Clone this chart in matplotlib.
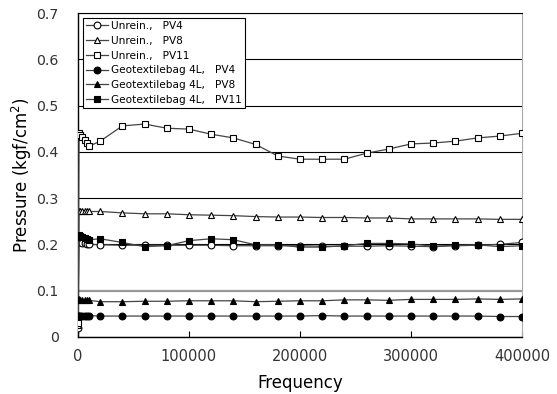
import matplotlib
matplotlib.use("Agg")
import matplotlib.pyplot as plt

# ---- data ----
freq = [0, 1000, 2000, 4000, 6000, 8000, 10000,
        20000, 40000, 60000, 80000, 100000, 120000, 140000, 160000, 180000, 200000,
        220000, 240000, 260000, 280000, 300000, 320000, 340000, 360000, 380000, 400000]

unrein_pv4 = [0.020, 0.205, 0.204, 0.203, 0.202, 0.201, 0.200,
              0.199, 0.198, 0.198, 0.198, 0.198, 0.198, 0.197, 0.197, 0.197, 0.197,
              0.196, 0.196, 0.196, 0.197, 0.196, 0.195, 0.197, 0.198, 0.200, 0.204]
unrein_pv8 = [0.025, 0.273, 0.273, 0.272, 0.272, 0.271, 0.271,
              0.271, 0.268, 0.266, 0.266, 0.264, 0.263, 0.262, 0.260, 0.259, 0.259,
              0.258, 0.258, 0.257, 0.257, 0.255, 0.255, 0.255, 0.255, 0.254, 0.254]
unrein_pv11 = [0.030, 0.440, 0.436, 0.432, 0.425, 0.419, 0.412,
               0.423, 0.456, 0.460, 0.451, 0.449, 0.438, 0.430, 0.416, 0.391, 0.384,
               0.384, 0.384, 0.397, 0.406, 0.417, 0.419, 0.423, 0.430, 0.434, 0.440]
geo_pv4 = [0.045, 0.046, 0.046, 0.045, 0.046, 0.045, 0.046,
           0.045, 0.045, 0.045, 0.045, 0.045, 0.045, 0.045, 0.045, 0.045, 0.045,
           0.046, 0.045, 0.045, 0.045, 0.045, 0.045, 0.045, 0.045, 0.044, 0.044]
geo_pv8 = [0.080, 0.081, 0.080, 0.080, 0.079, 0.079, 0.079,
           0.076, 0.076, 0.077, 0.077, 0.078, 0.078, 0.078, 0.076, 0.077, 0.078,
           0.078, 0.080, 0.080, 0.079, 0.081, 0.081, 0.081, 0.082, 0.081, 0.082]
geo_pv11 = [0.215, 0.220, 0.218, 0.216, 0.214, 0.212, 0.210,
            0.212, 0.204, 0.195, 0.197, 0.208, 0.212, 0.210, 0.199, 0.199, 0.194,
            0.194, 0.197, 0.202, 0.202, 0.201, 0.196, 0.198, 0.199, 0.195, 0.197]

series = [
    (unrein_pv4, "Unrein.,   PV4", "o", "white"),
    (unrein_pv8, "Unrein.,   PV8", "^", "white"),
    (unrein_pv11, "Unrein.,   PV11", "s", "white"),
    (geo_pv4, "Geotextilebag 4L,   PV4", "o", "black"),
    (geo_pv8, "Geotextilebag 4L,   PV8", "^", "black"),
    (geo_pv11, "Geotextilebag 4L,   PV11", "s", "black"),
]

yticks = [0, 0.1, 0.2, 0.3, 0.4, 0.5, 0.6, 0.7]
xticks = [0, 100000, 200000, 300000, 400000]

# ---- plot ----
plt.rcParams["font.family"] = ["DejaVu Sans"]
fig = plt.figure(figsize=(5.57, 3.94), dpi=100)
ax = fig.add_axes([0.140, 0.145, 0.797, 0.822])

for vals, lab, mk, fc in series:
    ax.plot(freq, vals, color="#444444", lw=0.9, marker=mk, markersize=4.9,
            markerfacecolor=fc, markeredgecolor="black", markeredgewidth=0.8,
            label=lab, zorder=3)

ax.set_xlim(0, 400000)
ax.set_ylim(0, 0.7)
ax.set_xticks(xticks)
ax.set_xticklabels([str(t) for t in xticks])
ax.set_yticks(yticks)
ax.set_yticklabels(["0", "0.1", "0.2", "0.3", "0.4", "0.5", "0.6", "0.7"])
ax.tick_params(axis="x", direction="in", length=4, colors="black", labelcolor="#333333",
               labelsize=10.5, pad=9)
ax.tick_params(axis="y", length=0, labelcolor="#333333", labelsize=10.2, pad=14)

ax.yaxis.grid(True, color="black", lw=0.8)
ax.get_ygridlines()[1].set_color("#999999")
ax.get_ygridlines()[1].set_linewidth(1.6)
ax.set_axisbelow(True)

ax.spines["top"].set_color("black")
ax.spines["top"].set_linewidth(0.8)
ax.spines["right"].set_color("#aaaaaa")
ax.spines["left"].set_linewidth(1.0)
ax.spines["bottom"].set_linewidth(1.0)

ax.set_xlabel("Frequency", fontsize=12, labelpad=7)
ax.set_ylabel("Pressure (kgf/cm$^2$)", fontsize=12)
ax.yaxis.set_label_coords(-0.1, 0.5)

leg = ax.legend(loc="upper left", bbox_to_anchor=(0.012, 0.985), fontsize=7.6,
                frameon=True, fancybox=False, edgecolor="black", framealpha=1,
                handlelength=2.0, handletextpad=0.3, labelspacing=0.45,
                borderpad=0.3, borderaxespad=0.0)
leg.get_frame().set_linewidth(0.8)

plt.savefig("out.png", dpi=100)
